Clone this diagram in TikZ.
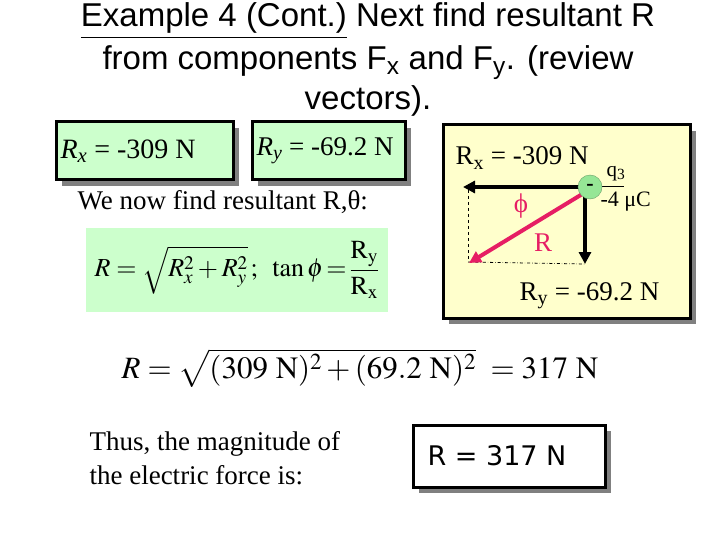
\documentclass[tikz,border=0pt]{standalone}
\usepackage{amsmath}
\usepackage{mathptmx}
\usepackage{fontspec}
\setmainfont{Liberation Serif}
\newfontfamily\arial{Liberation Sans}
\newfontfamily\dvs{DejaVu Sans}
\usetikzlibrary{arrows.meta}
\definecolor{lgreen}{RGB}{204,255,204}
\definecolor{lyellow}{RGB}{255,255,204}
\definecolor{shad}{RGB}{128,128,128}
\definecolor{pinkr}{RGB}{230,30,100}
\definecolor{cgreen}{RGB}{150,230,150}
\tikzset{
 ttl/.style={font=\arial\fontsize{33}{37}\selectfont,anchor=center},
 serif/.style={font=\fontsize{27}{31}\selectfont},
 blk/.style={line width=4pt,-{Triangle[length=12pt,width=12pt]}},
}
\begin{document}
\begin{tikzpicture}[x=1pt,y=-1pt]
\useasboundingbox (0,0) rectangle (720,540);
\fill[white] (0,0) rectangle (720,540);
% title
\node[ttl] (t1) at (368,21) {\underline{Example 4 (Cont.)} Next find resultant R};
\node[ttl] (t2) at (368,63) {from components F\textsubscript{x} and F\textsubscript{y}. (review};
\node[ttl] (t3) at (368,101) {vectors).};
% Rx Ry boxes
\fill[shad] (62,128) rectangle (239,186);
\fill[lgreen] (56,122) rectangle (233,180);
\draw[line width=3pt] (56,122) rectangle (233,180);
\node[font=\fontsize{28}{31}\selectfont,anchor=west] (rx) at (57,151) {\textit{R\textsubscript{x}} = -309 N};
\fill[shad] (258,128) rectangle (411,186);
\fill[lgreen] (252,122) rectangle (405,180);
\draw[line width=3pt] (252,122) rectangle (405,180);
\node[font=\fontsize{27}{31}\selectfont,anchor=west] (ry) at (253,151) {\textit{R\textsubscript{y}} = -69.2 N};
\node[serif,anchor=west] (wn) at (74,202) {We now find resultant R,θ:};
% formula box
\fill[lgreen] (86,228) rectangle (388,312);
\node[font=\fontsize{26}{30}\selectfont] (f1) at (237,270) {$R=\sqrt{R_x^2+R_y^2}\,;\;\; \tan\phi\!=\!\dfrac{\mathrm{R_y}}{\mathrm{R_x}}$};
% yellow box
\fill[shad] (449,131) rectangle (696,324);
\fill[lyellow] (443,125) rectangle (690,318);
\draw[line width=3pt] (443,125) rectangle (690,318);
\coordinate (q) at (590,187);
\coordinate (lt) at (463,187);
\coordinate (dn) at (585,264);
\coordinate (bl) at (468,262);
\draw[dashed,line width=0.8pt] (468,190) -- (bl);
\draw[dash dot,line width=0.8pt] (bl) -- (dn);
\draw[line width=1pt] (600,187) -- (624,187);
\draw[blk] (q) -- (lt);
\draw[blk] (585,190) -- (dn);
\draw[line width=4pt,pinkr,-{Triangle[length=12pt,width=12pt]}] (584,193) -- (469,263);
\node[circle,fill=cgreen,draw=cgreen!70!black,minimum size=24pt,inner sep=0pt,font=\bfseries\fontsize{22}{22}\selectfont] (qc) at (q) {-};
\node[serif,anchor=west] (rxl) at (452,158) {R\textsubscript{x} = -309 N};
\node[font=\fontsize{21}{23}\selectfont,anchor=west] (q3) at (603,174) {q\textsubscript{3}};
\node[font=\fontsize{22}{24}\selectfont,anchor=west] (mc) at (597,202) {-4 μC};
\node[serif,text=pinkr] (phi) at (521,206) {ϕ};
\node[serif,text=pinkr] (rl) at (543,243) {R};
\node[serif,anchor=west] (ryl) at (516,296) {R\textsubscript{y} = -69.2 N};
% big formula
\node[font=\fontsize{31}{35}\selectfont] (f2) at (360,368) {$R=\sqrt{(309\ \mathrm{N})^2+(69.2\ \mathrm{N})^2}\ =317\ \mathrm{N}$};
% bottom text
\node[font=\fontsize{27}{34}\selectfont,anchor=west,align=left] (th) at (86,458) {Thus, the magnitude of\\the electric force is:};
\fill[shad] (419,431) rectangle (611,493);
\fill[white] (413,425) rectangle (605,487);
\draw[line width=3pt] (413,425) rectangle (605,487);
\node[font=\dvs\fontsize{27}{30}\selectfont] (ans) at (497,456) {R = 317 N};
\end{tikzpicture}
\end{document}
